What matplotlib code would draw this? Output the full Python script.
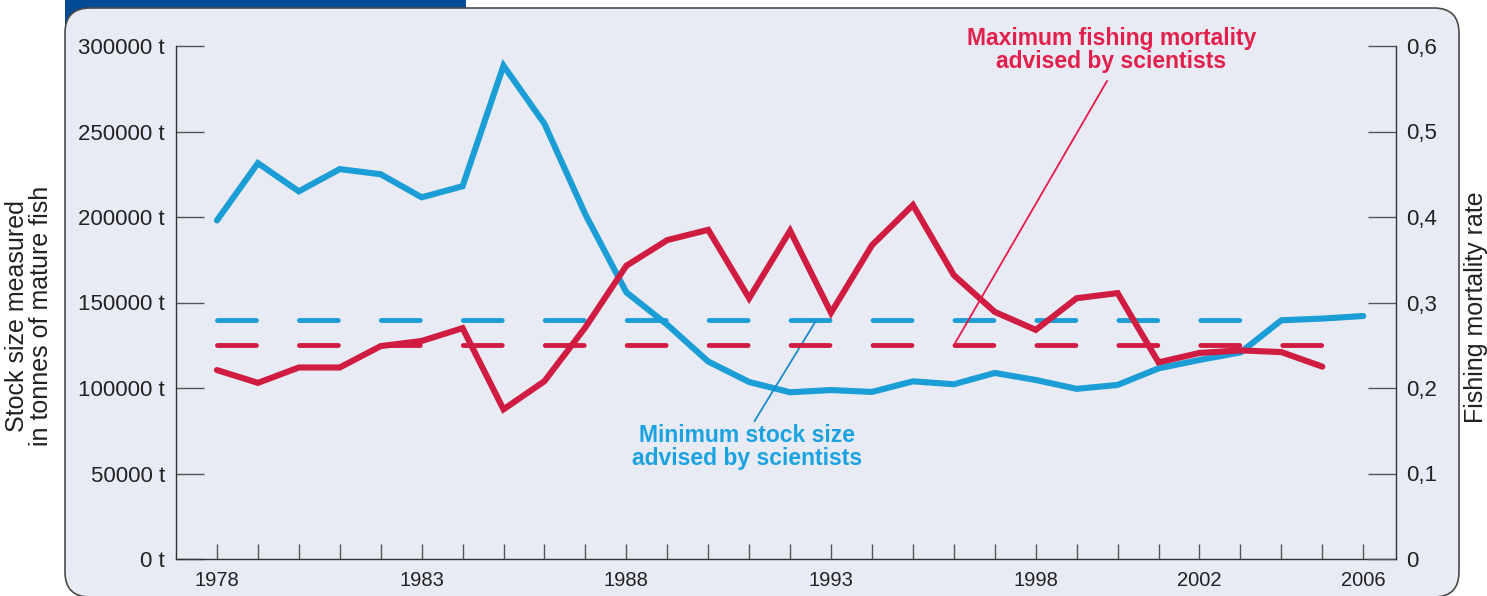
import numpy as np
import matplotlib
matplotlib.use("Agg")
import matplotlib.pyplot as plt
from matplotlib.patches import FancyBboxPatch, Rectangle
from matplotlib.ticker import FuncFormatter

plt.rcParams['font.family'] = ['Liberation Sans', 'DejaVu Sans']
plt.rcParams['lines.scale_dashes'] = False

# ---- data ----
years = np.arange(1978, 2007)
stock = [198000, 231500, 215000, 228000, 225000, 211500, 218000, 288500, 254500,
         201500, 156000, 137000, 115500, 103500, 97500, 98800, 97700, 103900,
         102200, 108800, 104700, 99500, 101800, 111500, 116400, 120800, 139600,
         140600, 142100]
mort_years = np.arange(1978, 2006)
mortality = [0.221, 0.206, 0.224, 0.224, 0.249, 0.255, 0.270, 0.175, 0.208, 0.271,
             0.343, 0.373, 0.385, 0.305, 0.384, 0.288, 0.367, 0.414, 0.332, 0.289,
             0.268, 0.305, 0.311, 0.230, 0.241, 0.244, 0.242, 0.225]
min_stock = 140000          # minimum stock size advised
min_stock_span = [1978, 2003]
max_mort = 0.25             # maximum fishing mortality advised
max_mort_span = [1978, 2005]
labelled_years = [1978, 1983, 1988, 1993, 1998, 2002, 2006]
stock_ticks = [0, 50000, 100000, 150000, 200000, 250000, 300000]
mort_ticks = [0, 0.1, 0.2, 0.3, 0.4, 0.5, 0.6]

BLUE = '#1b9dd6'
RED = '#cf1c40'
W, H = 1487, 596

fig = plt.figure(figsize=(W / 100, H / 100), dpi=100)

# ---- background panel ----
bg = fig.add_axes([0, 0, 1, 1], zorder=-5)
bg.set_xlim(0, W)
bg.set_ylim(H, 0)
bg.axis('off')
bg.add_patch(Rectangle((65, -5), 401, 45, facecolor='#004b93', edgecolor='none'))
bg.add_patch(FancyBboxPatch((65 + 25, 8 + 25), 1459 - 65 - 50, 597 - 8 - 50,
                            boxstyle='round,pad=25', facecolor='#e8eaf4',
                            edgecolor='#4a4a4a', linewidth=1.2))

# ---- main axes (stock) ----
ax = fig.add_axes([176 / W, 1 - 559 / H, (1396 - 176) / W, (559 - 46) / H])
ax.set_facecolor('none')
ax.set_xlim(1977.0, 2006.8)
ax.set_ylim(0, 300000)

ax.plot(min_stock_span, [min_stock, min_stock], color=BLUE, lw=3.5,
        dashes=(28, 31), solid_capstyle='round', dash_capstyle='round')
ax.plot(years, stock, color=BLUE, lw=4.4, solid_capstyle='round',
        solid_joinstyle='miter')

for s in ['top', 'right']:
    ax.spines[s].set_visible(False)
for s in ['left', 'bottom']:
    ax.spines[s].set_color('#333333')
    ax.spines[s].set_linewidth(1.0)

ax.set_yticks(stock_ticks)
ax.yaxis.set_major_formatter(FuncFormatter(lambda v, p: f"{int(v)} t"))
ax.tick_params(axis='y', direction='in', length=20, width=1, color='#555555',
               pad=8, labelsize=16, labelcolor='#222222')
ax.set_xticks(years)
ax.set_xticklabels([str(y) if y in labelled_years else '' for y in years])
ax.tick_params(axis='x', direction='in', length=11, width=1, color='#555555',
               pad=9, labelsize=14.5, labelcolor='#222222')

# ---- twin axes (mortality) ----
ax2 = ax.twinx()
ax2.set_ylim(0, 0.6)
ax2.plot(max_mort_span, [max_mort, max_mort], color=RED, lw=3.5,
         dashes=(28, 31), solid_capstyle='round', dash_capstyle='round')
ax2.plot(mort_years, mortality, color=RED, lw=4.4, solid_capstyle='round',
         solid_joinstyle='miter')
for s in ['top', 'left', 'bottom']:
    ax2.spines[s].set_visible(False)
ax2.spines['right'].set_color('#333333')
ax2.spines['right'].set_linewidth(1.0)
ax2.set_yticks(mort_ticks)
ax2.yaxis.set_major_formatter(FuncFormatter(lambda v, p: f"{v:.1f}".replace('.', ',') if v else '0'))
ax2.tick_params(axis='y', direction='in', length=20, width=1, color='#555555',
                pad=7, labelsize=16, labelcolor='#222222')

# ---- annotations ----
ax2.annotate('Maximum fishing mortality\nadvised by scientists',
             xy=(1996.0, max_mort), xytext=(1999.85, 0.595),
             ha='center', va='center', color='#e3204c', fontsize=16.5,
             fontweight='bold', linespacing=1.0,
             arrowprops=dict(arrowstyle='-', color='#e8194b', lw=1.3,
                             relpos=(0.5, 0), shrinkA=4, shrinkB=0))
ax.annotate('Minimum stock size\nadvised by scientists',
            xy=(1992.65, min_stock), xytext=(1990.95, 65500),
            ha='center', va='center', color='#1aa3e0', fontsize=16.5,
            fontweight='bold', linespacing=1.0,
            arrowprops=dict(arrowstyle='-', color='#1a8ccc', lw=1.3,
                            relpos=(0.5, 0.8), shrinkA=0, shrinkB=0))

# ---- axis titles ----
fig.text(29 / W, 1 - 316 / H, 'Stock size measured\nin tonnes of mature fish',
         rotation=90, ha='center', va='center', fontsize=18, color='#222222',
         linespacing=0.95)
fig.text(1476 / W, 1 - 307 / H, 'Fishing mortality rate', rotation=90,
         ha='center', va='center', fontsize=18, color='#222222')

fig.savefig('out.png', dpi=100)
